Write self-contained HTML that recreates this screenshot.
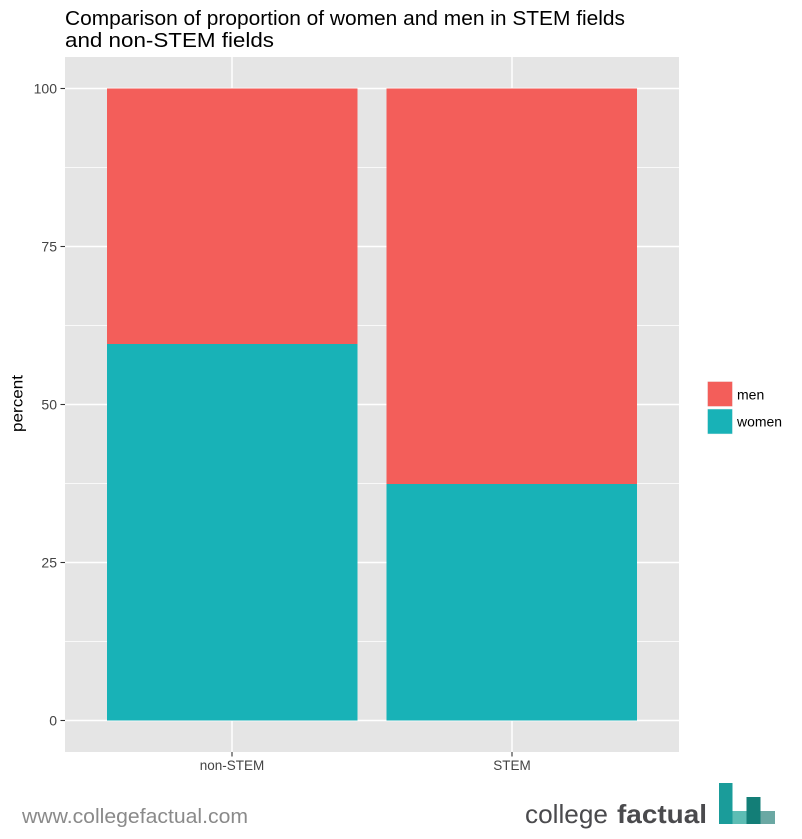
<!DOCTYPE html>
<html>
<head>
<meta charset="utf-8">
<style>
  html,body{margin:0;padding:0;background:#fff;}
  svg{display:block;}
  text{font-family:"Liberation Sans", Arial, sans-serif;}
</style>
</head>
<body>
<svg width="802" height="839" viewBox="0 0 802 839" xmlns="http://www.w3.org/2000/svg">
  <rect x="0" y="0" width="802" height="839" fill="#ffffff"/>

  <!-- Title -->
  <text x="65" y="25" font-size="20" fill="#000" textLength="560" lengthAdjust="spacingAndGlyphs">Comparison of proportion of women and men in STEM fields</text>
  <text x="65" y="47" font-size="20" fill="#000" textLength="209" lengthAdjust="spacingAndGlyphs">and non-STEM fields</text>

  <!-- Panel -->
  <rect x="65" y="57" width="614" height="695" fill="#E5E5E5"/>

  <!-- minor grid -->
  <g stroke="#ffffff" stroke-width="0.8">
    <line x1="65" x2="679" y1="641.5" y2="641.5"/>
    <line x1="65" x2="679" y1="483.5" y2="483.5"/>
    <line x1="65" x2="679" y1="325.5" y2="325.5"/>
    <line x1="65" x2="679" y1="167.5" y2="167.5"/>
  </g>
  <!-- major grid -->
  <g stroke="#ffffff" stroke-width="1.5">
    <line x1="65" x2="679" y1="720.5" y2="720.5"/>
    <line x1="65" x2="679" y1="562.5" y2="562.5"/>
    <line x1="65" x2="679" y1="404.5" y2="404.5"/>
    <line x1="65" x2="679" y1="246.5" y2="246.5"/>
    <line x1="65" x2="679" y1="88.5" y2="88.5"/>
    <line x1="232" x2="232" y1="57" y2="752"/>
    <line x1="512" x2="512" y1="57" y2="752"/>
  </g>

  <!-- Bars -->
  <rect x="107" y="88.5" width="250.5" height="255.5" fill="#F35E5A"/>
  <rect x="107" y="344" width="250.5" height="376.5" fill="#18B2B7"/>
  <rect x="386.5" y="88.5" width="250.5" height="395.5" fill="#F35E5A"/>
  <rect x="386.5" y="484" width="250.5" height="236.5" fill="#18B2B7"/>

  <!-- Ticks -->
  <g stroke="#333" stroke-width="1.1">
    <line x1="60.5" x2="65" y1="720.5" y2="720.5"/>
    <line x1="60.5" x2="65" y1="562.5" y2="562.5"/>
    <line x1="60.5" x2="65" y1="404.5" y2="404.5"/>
    <line x1="60.5" x2="65" y1="246.5" y2="246.5"/>
    <line x1="60.5" x2="65" y1="88.5" y2="88.5"/>
    <line x1="232" x2="232" y1="752" y2="756.5"/>
    <line x1="512" x2="512" y1="752" y2="756.5"/>
  </g>
  <g font-size="14" fill="#444" text-anchor="end">
    <text x="57" y="725.5">0</text>
    <text x="57" y="567.5">25</text>
    <text x="57" y="409.5">50</text>
    <text x="57" y="251.5">75</text>
    <text x="57" y="93.5">100</text>
  </g>
  <g font-size="13.5" fill="#444" text-anchor="middle">
    <text x="232" y="770">non-STEM</text>
    <text x="512" y="770">STEM</text>
  </g>

  <!-- Y axis title -->
  <text x="0" y="0" font-size="16" fill="#000" text-anchor="middle" textLength="57" lengthAdjust="spacingAndGlyphs" transform="translate(22.5,403.5) rotate(-90)">percent</text>

  <!-- Legend -->
  <rect x="707.5" y="381.5" width="25" height="25" fill="#F35E5A" stroke="#f2f2f2" stroke-width="0.5"/>
  <rect x="707.5" y="409" width="25" height="25" fill="#18B2B7" stroke="#f2f2f2" stroke-width="0.5"/>
  <text x="737" y="399.5" font-size="14" fill="#000">men</text>
  <text x="737" y="426.5" font-size="14" fill="#000" textLength="45" lengthAdjust="spacingAndGlyphs">women</text>

  <!-- Watermark -->
  <text x="22" y="823" font-size="20" fill="#8a8a8a" textLength="226" lengthAdjust="spacingAndGlyphs">www.collegefactual.com</text>

  <!-- Logo -->
  <text x="525" y="823" font-size="26" fill="#4a4a4d" textLength="83" lengthAdjust="spacingAndGlyphs">college</text>
  <text x="617" y="823" font-size="26" font-weight="bold" fill="#4a4a4d" textLength="90" lengthAdjust="spacingAndGlyphs">factual</text>
  <rect x="719" y="783" width="13.5" height="41" fill="#1A9C9A"/>
  <rect x="732.5" y="811" width="14" height="13" fill="#5DBDB4"/>
  <rect x="746.5" y="797" width="14" height="27" fill="#137E77"/>
  <rect x="760.5" y="811" width="14.5" height="13" fill="#6BA8A3"/>
</svg>
</body>
</html>
